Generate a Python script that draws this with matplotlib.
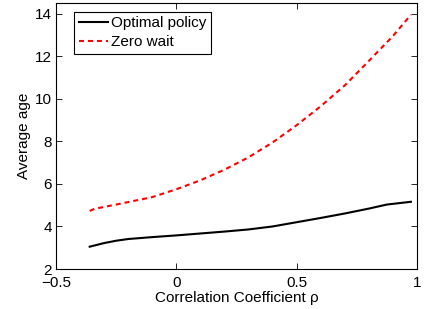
import numpy as np
import matplotlib
matplotlib.use("Agg")
import matplotlib.pyplot as plt

plt.rcParams.update({
    "font.family": ["Liberation Sans", "DejaVu Sans"],
    "font.size": 11,
    "axes.linewidth": 0.8,
    "xtick.direction": "in", "ytick.direction": "in",
    "xtick.top": True, "ytick.right": True,
    "xtick.major.size": 4, "ytick.major.size": 4,
    "xtick.major.width": 0.6, "ytick.major.width": 0.6,
})

# correlation coefficient rho
rho_opt = [-0.36, -0.3, -0.25, -0.2, -0.1, 0.0, 0.1, 0.2, 0.3, 0.4, 0.5, 0.6, 0.7, 0.8, 0.875, 0.975]
age_opt = [3.05, 3.22, 3.33, 3.41, 3.50, 3.58, 3.67, 3.76, 3.86, 4.00, 4.20, 4.40, 4.61, 4.84, 5.03, 5.16]

rho_zw = [-0.36, -0.34, -0.25, -0.1, 0.0, 0.1, 0.2, 0.3, 0.4, 0.5, 0.6, 0.7, 0.8, 0.9, 0.975]
age_zw = [4.73, 4.83, 5.03, 5.38, 5.75, 6.17, 6.67, 7.25, 7.95, 8.76, 9.65, 10.63, 11.78, 12.95, 13.95]

fig = plt.figure(figsize=(4.25, 3.09), dpi=100)
ax = fig.add_axes([0.1318, 0.1294, 0.981 - 0.1318, 0.990 - 0.1294])

ax.plot(rho_opt, age_opt, color="black", linewidth=1.5, label="Optimal policy")
ax.plot(rho_zw, age_zw, color="red", linewidth=1.5, linestyle="--", dashes=(2.4, 1.9), label="Zero wait")

ax.set_xlim(-0.5, 1)
ax.set_ylim(2, 14.5)
ax.set_xticks([-0.5, 0, 0.5, 1])
ax.set_xticklabels(["\u22120.5", "0", "0.5", "1"])
ax.set_yticks([2, 4, 6, 8, 10, 12, 14])
ax.tick_params(axis="x", pad=5)
ax.tick_params(axis="y", pad=3)
ax.set_xlabel("Correlation Coefficient \u03c1", labelpad=1)
ax.set_ylabel("Average age", labelpad=3)

leg = ax.legend(loc="upper left", bbox_to_anchor=(0.05, 0.967), borderaxespad=0,
                fancybox=False, edgecolor="black", framealpha=1,
                handlelength=1.9, handletextpad=0.25, labelspacing=0.3,
                borderpad=0.3)
leg.get_frame().set_linewidth(0.8)

fig.savefig("out.png", dpi=100)
